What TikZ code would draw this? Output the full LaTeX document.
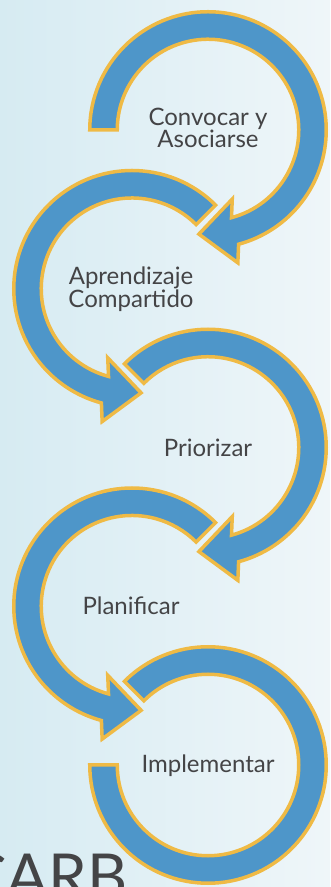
\documentclass[tikz,border=0pt]{standalone}
\usepackage{fontspec}
\setmainfont{Lato}
\definecolor{ringblue}{RGB}{78,150,201}
\definecolor{ringgold}{RGB}{239,186,69}
\definecolor{textgray}{RGB}{68,68,70}
\definecolor{bgleft}{RGB}{214,235,242}
\definecolor{bgright}{RGB}{239,246,249}
\tikzset{
  ringshape/.style={fill=ringblue, draw=ringgold, line width=3.5pt, miter limit=10},
  label/.style={text=textgray, font=\fontsize{24}{22}\selectfont, inner sep=0pt, align=center},
}
\newcommand\ringarrow[1]{%
  \path[ringshape] (#1:118.25pt) arc[start angle=#1, end angle=-75, radius=118.25pt]
    -- (29.84pt,-132.82pt) -- (-9.11pt,-104.10pt) -- (24.26pt,-69.06pt)
    -- (-75:90.75pt) arc[start angle=-75, end angle=#1, radius=90.75pt] -- cycle;}
\begin{document}
\begin{tikzpicture}[x=1pt,y=1pt]
\useasboundingbox (0,0) rectangle (330,887);
\shade[left color=bgleft, right color=bgright] (0,0) rectangle (330,887);
% ring centres (y up): 757, 598.25, 439.5, 280.75, 122
\begin{scope}[shift={(208,757)}]\ringarrow{180}\end{scope}
\begin{scope}[shift={(132,598.25)}, xscale=-1]\ringarrow{135}\end{scope}
\begin{scope}[shift={(208,439.5)}]\ringarrow{135}\end{scope}
\begin{scope}[shift={(132,280.75)}, xscale=-1]\ringarrow{135}\end{scope}
\begin{scope}[shift={(208,122)}]
  \path[ringshape] (135:118.25pt) arc[start angle=135, end angle=-180, radius=118.25pt]
    -- (180:90.75pt) arc[start angle=-180, end angle=135, radius=90.75pt] -- cycle;
\end{scope}
\node[label] (n1) at (208,759.5) {Convocar y\\Asociarse};
\node[label] (n2) at (131,598) {Aprendizaje\\Compartido};
\node[label, anchor=base] (n3) at (208,430) {Priorizar};
\node[label, anchor=base] (n4) at (131,272) {Planificar};
\node[label, anchor=base] (n5) at (208,114) {Implementar};
\node[text=textgray, font=\fontsize{62}{62}\selectfont, inner sep=0pt, anchor=base west] (carb) at (-35,-12) {CARB};
\end{tikzpicture}
\end{document}
